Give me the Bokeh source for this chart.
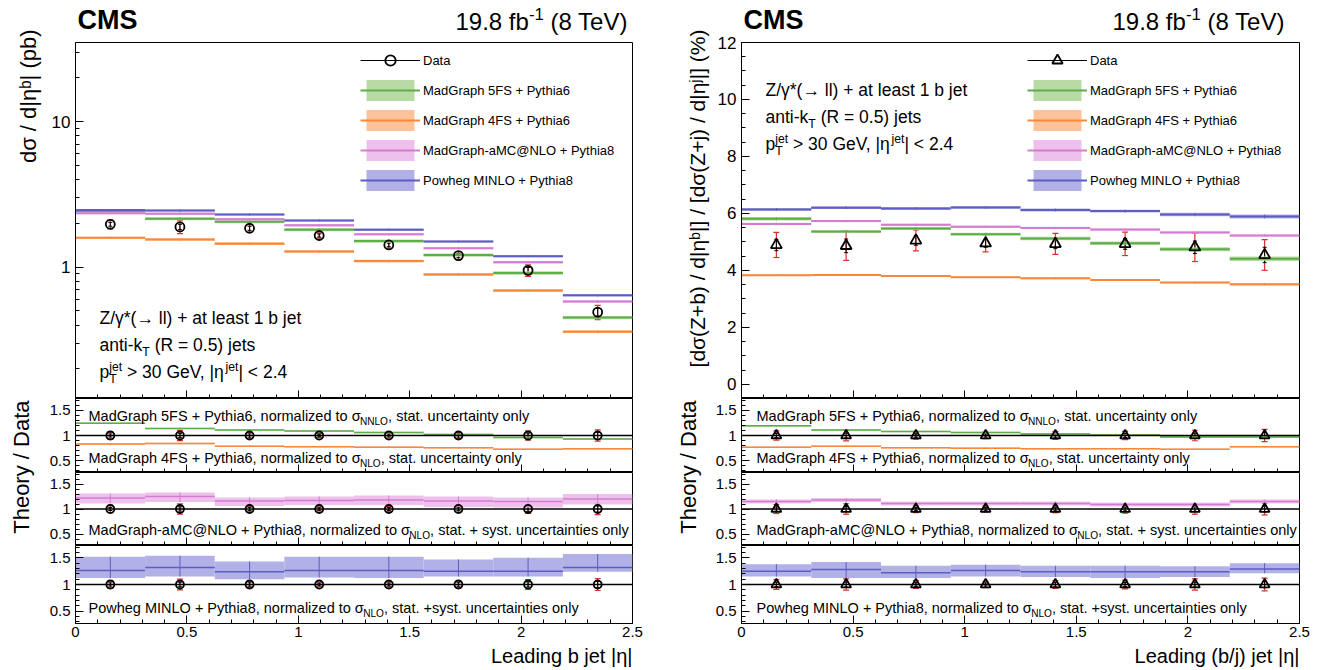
import math
from bokeh.plotting import figure
from bokeh.models import (Range1d, FixedTicker, SingleIntervalTicker, NumeralTickFormatter,
                          CustomJSTickFormatter, Label, Legend, LegendItem, Span, Whisker,
                          TeeHead, ColumnDataSource)
from bokeh.layouts import column, row
from bokeh.embed import file_html
from bokeh.resources import INLINE

FONT = "Liberation Sans"

# ---------------- data ----------------
bin_edges = [0.0, 0.3125, 0.625, 0.9375, 1.25, 1.5625, 1.875, 2.1875, 2.5]

# Left: leading b jet |eta|, dsigma/d|eta| (pb)
b_data = [1.97, 1.89, 1.85, 1.65, 1.42, 1.20, 0.95, 0.49]
b_data_tot = [0.14, 0.19, 0.11, 0.07, 0.07, 0.075, 0.085, 0.055]
b_data_stat = [0.06, 0.08, 0.06, 0.04, 0.04, 0.04, 0.045, 0.03]
b_mg5 = [2.41, 2.15, 2.05, 1.81, 1.51, 1.21, 0.91, 0.45]
b_mg4 = [1.59, 1.55, 1.45, 1.28, 1.10, 0.89, 0.69, 0.36]
b_amc = [2.35, 2.33, 2.13, 1.94, 1.68, 1.35, 1.08, 0.58]
b_pow = [2.47, 2.45, 2.30, 2.09, 1.81, 1.50, 1.19, 0.64]
b_mg5_unc = [0.06, 0.05, 0.05, 0.045, 0.04, 0.03, 0.025, 0.012]
b_mg4_unc = [0.03, 0.03, 0.03, 0.025, 0.022, 0.02, 0.015, 0.008]
b_amc_unc = [0.04, 0.04, 0.04, 0.035, 0.03, 0.025, 0.02, 0.012]
b_pow_unc = [0.04, 0.04, 0.04, 0.035, 0.03, 0.025, 0.02, 0.012]
b_r_mg5 = [1.24, 1.14, 1.11, 1.09, 1.06, 1.02, 0.96, 0.93]
b_r_mg4 = [0.83, 0.84, 0.79, 0.78, 0.77, 0.76, 0.73, 0.74]
b_r_amc = [1.22, 1.25, 1.16, 1.17, 1.18, 1.16, 1.15, 1.20]
b_r_amc_lo = [1.11, 1.14, 1.06, 1.08, 1.08, 1.04, 1.03, 1.09]
b_r_amc_hi = [1.31, 1.33, 1.23, 1.25, 1.27, 1.25, 1.23, 1.30]
b_r_pow = [1.26, 1.32, 1.24, 1.26, 1.26, 1.25, 1.25, 1.32]
b_r_pow_lo = [1.12, 1.15, 1.10, 1.13, 1.12, 1.15, 1.15, 1.24]
b_r_pow_hi = [1.52, 1.54, 1.43, 1.52, 1.52, 1.47, 1.50, 1.57]

# Right: leading (b/j) jet |eta|, ratio (%)
bj_data = [4.89, 4.86, 5.05, 4.95, 4.93, 4.93, 4.81, 4.54]
bj_data_tot = [0.44, 0.51, 0.37, 0.30, 0.37, 0.41, 0.50, 0.54]
bj_data_stat = [0.20, 0.24, 0.17, 0.14, 0.17, 0.19, 0.22, 0.27]
bj_mg5 = [5.81, 5.36, 5.47, 5.27, 5.12, 4.95, 4.74, 4.41]
bj_mg4 = [3.83, 3.84, 3.80, 3.76, 3.72, 3.66, 3.57, 3.51]
bj_amc = [5.63, 5.73, 5.60, 5.53, 5.49, 5.43, 5.33, 5.22]
bj_pow = [6.14, 6.20, 6.17, 6.21, 6.12, 6.08, 5.96, 5.89]
bj_mg5_unc = [0.06, 0.05, 0.05, 0.05, 0.06, 0.06, 0.07, 0.08]
bj_mg4_unc = [0.03, 0.03, 0.03, 0.03, 0.03, 0.03, 0.03, 0.04]
bj_amc_unc = [0.04, 0.04, 0.04, 0.04, 0.04, 0.04, 0.04, 0.04]
bj_pow_unc = [0.05, 0.05, 0.05, 0.05, 0.05, 0.05, 0.06, 0.07]
bj_r_mg5 = [1.19, 1.11, 1.08, 1.06, 1.03, 1.01, 0.97, 0.97]
bj_r_mg4 = [0.77, 0.79, 0.76, 0.75, 0.74, 0.74, 0.73, 0.78]
bj_r_amc = [1.15, 1.18, 1.11, 1.11, 1.11, 1.09, 1.09, 1.15]
bj_r_amc_lo = [1.11, 1.14, 1.07, 1.07, 1.07, 1.05, 1.05, 1.11]
bj_r_amc_hi = [1.19, 1.22, 1.15, 1.15, 1.15, 1.13, 1.13, 1.19]
bj_r_pow = [1.25, 1.28, 1.22, 1.26, 1.24, 1.24, 1.24, 1.29]
bj_r_pow_lo = [1.15, 1.12, 1.12, 1.15, 1.14, 1.12, 1.14, 1.21]
bj_r_pow_hi = [1.38, 1.42, 1.35, 1.37, 1.35, 1.35, 1.34, 1.40]

model_labels = ["MadGraph 5FS + Pythia6", "MadGraph 4FS + Pythia6",
                "MadGraph-aMC@NLO + Pythia8", "Powheg MINLO + Pythia8"]
line_colors = ["#5cae48", "#f7883c", "#d47cd2", "#5f5cc2"]
band_colors = ["#b0d79b", "#fdbb8c", "#ecb9ea", "#a9a8e4"]
RED = "#d9302a"

# ---------------- text helpers ----------------
CW = {' ': 278, '!': 278, '(': 333, ')': 333, '*': 389, '+': 584, ',': 278, '-': 333,
      '.': 278, '/': 278, '<': 584, '=': 584, '>': 584, '@': 1015, '[': 278, ']': 278,
      '|': 260, '%': 889, 'σ': 571, 'η': 556, 'γ': 500, '→': 1000}
for ch in "0123456789":
    CW[ch] = 556
CW.update(dict(zip("ABCDEFGHIJKLMNOPQRSTUVWXYZ",
                   [667, 667, 722, 722, 667, 611, 778, 722, 278, 500, 667, 556, 833, 722,
                    778, 667, 778, 722, 667, 611, 722, 667, 944, 667, 667, 611])))
CW.update(dict(zip("abcdefghijklmnopqrstuvwxyz",
                   [556, 556, 500, 556, 556, 278, 556, 556, 222, 222, 500, 222, 833, 556,
                    556, 556, 556, 333, 500, 278, 556, 500, 722, 500, 500, 500])))

BASE_FIX = 0.36  # empirical: rendered baseline sits this fraction of the size below y


def tw(s, size):
    return sum(CW.get(c, 556) for c in s) * size / 1000.0


def rich(p, x, y, parts, size, align="left", style="normal"):
    items = []
    cur = 0.0
    for part in parts:
        kind = part[0]
        if kind == "n":
            items.append((part[1], cur, 0.0, size))
            cur += tw(part[1], size)
        elif kind == "sub":
            s = size * 0.7
            items.append((part[1], cur, -0.28 * size, s))
            cur += tw(part[1], s)
        elif kind == "sup":
            s = size * 0.7
            items.append((part[1], cur, 0.42 * size, s))
            cur += tw(part[1], s)
        elif kind == "ss":
            s = size * 0.7
            items.append((part[1], cur, -0.28 * size, s))
            items.append((part[2], cur, 0.42 * size, s))
            cur += max(tw(part[1], s), tw(part[2], s))
    shift = -cur if align == "right" else 0.0
    for text, dx, dy, s in items:
        stripped = text.lstrip(" ")
        lead = tw(text[:len(text) - len(stripped)], s)
        p.add_layout(Label(x=x, y=y, x_offset=dx + shift + lead,
                           y_offset=dy + BASE_FIX * s,
                           text=stripped.rstrip(" "),
                           text_font=FONT, text_font_size=f"{s:.1f}px",
                           text_font_style=style, text_color="black",
                           text_baseline="alphabetic", text_align="left"))


class Frame:
    def __init__(self, px0, fw, py0, fh, ylo, yhi, log=False):
        self.px0, self.fw, self.py0, self.fh = px0, fw, py0, fh
        self.ylo, self.yhi, self.log = ylo, yhi, log

    def x(self, px):
        return 2.5 * (px - self.px0) / self.fw

    def y(self, py):
        t = (py - self.py0) / self.fh
        if self.log:
            l0, l1 = math.log10(self.ylo), math.log10(self.yhi)
            return 10 ** (l1 - t * (l1 - l0))
        return self.yhi - t * (self.yhi - self.ylo)


def strip(x0, x1, y0, y1, bl=0, br=0):
    """Blank figure whose frame data coordinates equal page pixels (y downward)."""
    s = figure(frame_width=x1 - x0, frame_height=y1 - y0, min_border=0,
               min_border_left=bl, min_border_right=br,
               x_range=Range1d(x0, x1), y_range=Range1d(y1, y0),
               x_axis_location=None, y_axis_location=None,
               output_backend="svg", toolbar_location=None, title=None)
    s.grid.visible = False
    s.outline_line_color = None
    s.background_fill_color = "white"
    s.border_fill_color = "white"
    return s


def style(p, xlabels):
    p.grid.visible = False
    p.outline_line_color = "black"
    p.outline_line_width = 1
    p.background_fill_color = "white"
    p.border_fill_color = "white"
    for ax in list(p.xaxis) + list(p.yaxis):
        ax.axis_line_color = "black"
        ax.major_tick_in = 8
        ax.major_tick_out = 0
        ax.minor_tick_in = 4
        ax.minor_tick_out = 0
        ax.major_tick_line_color = "black"
        ax.minor_tick_line_color = "black"
        ax.major_label_text_font = FONT
        ax.major_label_text_color = "black"
    p.xaxis.ticker = SingleIntervalTicker(interval=0.5, num_minor_ticks=5)
    if xlabels:
        p.xaxis.formatter = NumeralTickFormatter(format="0.[0]")
        p.xaxis.major_label_text_font_size = "15px"
        p.xaxis.major_label_standoff = 3
    else:
        p.xaxis.formatter = CustomJSTickFormatter(code="return ''")
        p.xaxis.major_label_text_font_size = "0px"
        p.xaxis.major_label_standoff = 0


def draw_model(p, centers, vals, lo, hi, lc, bc, lw=2):
    q = p.quad(left=bin_edges[:-1], right=bin_edges[1:], bottom=lo, top=hi,
               fill_color=bc, fill_alpha=0.9, line_color=None)
    s = p.segment(x0=bin_edges[:-1], x1=bin_edges[1:], y0=vals, y1=vals,
                  line_color=lc, line_width=lw)
    p.segment(x0=centers, x1=centers, y0=lo, y1=hi, line_color=lc, line_width=1)
    return q, s


def draw_data(p, centers, vals, tot, stat, marker, size):
    src = ColumnDataSource(dict(x=centers,
                                up=[v + e for v, e in zip(vals, tot)],
                                lo=[v - e for v, e in zip(vals, tot)],
                                sup=[v + e for v, e in zip(vals, stat)],
                                slo=[v - e for v, e in zip(vals, stat)]))
    p.add_layout(Whisker(base="x", upper="up", lower="lo", source=src,
                         line_color=RED, line_width=1.2,
                         upper_head=TeeHead(size=6, line_color=RED, line_width=1.2),
                         lower_head=TeeHead(size=6, line_color=RED, line_width=1.2)))
    p.add_layout(Whisker(base="x", upper="sup", lower="slo", source=src,
                         line_color="black", line_width=1,
                         upper_head=TeeHead(size=4, line_color="black", line_width=1),
                         lower_head=TeeHead(size=4, line_color="black", line_width=1)))
    return p.scatter(x=centers, y=vals, marker=marker, size=size, fill_alpha=0,
                     line_color="black", line_width=1.8)


COLW = 660
TOP = 42
TOP_STRIP = 35
MAIN_H = 356
R_H = [74, 73, 78]
R3_BOT = 22
BOT_H = 23


def build(cfg):
    col_x = cfg["col_x"]
    ws, bl, fw = cfg["ws"], cfg["bl"], cfg["fw"]
    br = COLW - ws - bl - fw
    px0 = col_x + ws + bl
    centers = [(a + b) / 2 for a, b in zip(bin_edges[:-1], bin_edges[1:])]

    # ---------- main panel ----------
    ylo, yhi = cfg["yr"]
    p = figure(frame_width=fw, frame_height=MAIN_H, min_border_left=bl, min_border_right=br,
               min_border_top=TOP - TOP_STRIP, min_border_bottom=0, x_range=Range1d(0, 2.5),
               y_range=Range1d(ylo, yhi), y_axis_type="log" if cfg["log"] else "linear",
               output_backend="svg", toolbar_location=None, title=None)
    style(p, False)
    p.yaxis.major_label_text_font_size = "17px"
    p.yaxis.major_label_standoff = 5
    if cfg["log"]:
        p.yaxis.ticker = FixedTicker(ticks=[1, 10],
                                     minor_ticks=[0.2, 0.3, 0.4, 0.5, 0.6, 0.7, 0.8, 0.9,
                                                  2, 3, 4, 5, 6, 7, 8, 9, 20, 30])
    else:
        p.yaxis.ticker = SingleIntervalTicker(interval=2, num_minor_ticks=4)
    p.yaxis.formatter = NumeralTickFormatter(format="0")
    fr = Frame(px0, fw, TOP, MAIN_H, ylo, yhi, cfg["log"])

    rends = []
    for vals, unc, lc, bc in zip(cfg["models"], cfg["models_unc"], line_colors, band_colors):
        lo = [v - u for v, u in zip(vals, unc)]
        hi = [v + u for v, u in zip(vals, unc)]
        rends.append(draw_model(p, centers, vals, lo, hi, lc, bc))
    lr = p.line(x=centers, y=cfg["data"], line_color="black", line_width=1, visible=False)
    sr = draw_data(p, centers, cfg["data"], cfg["data_tot"], cfg["data_stat"],
                   cfg["marker"], cfg["msize"])
    items = [LegendItem(label="Data", renderers=[lr, sr])]
    for lab, (q, s) in zip(model_labels, rends):
        items.append(LegendItem(label=lab, renderers=[q, s]))
    leg = Legend(items=items, location=(cfg["leg_x"] - px0, (TOP + MAIN_H) - 193),
                 glyph_width=60, glyph_height=26, spacing=4, padding=0, margin=0,
                 label_standoff=3, label_text_font=FONT, label_text_font_size="13px",
                 label_text_color="black", background_fill_alpha=0, border_line_alpha=0)
    p.add_layout(leg)

    ax_, ay = cfg["ann_x"], cfg["ann_y"]
    rich(p, fr.x(ax_), fr.y(ay[0]), [("n", "Z/γ*(→ ll) + at least 1 b jet")], 17.5)
    rich(p, fr.x(ax_), fr.y(ay[1]),
         [("n", "anti-k"), ("sub", "T"), ("n", " (R = 0.5) jets")], 17.5)
    rich(p, fr.x(ax_), fr.y(ay[2]),
         [("n", "p"), ("ss", "T", "jet"), ("n", " > 30 GeV, |η"), ("sup", "jet"),
          ("n", "| < 2.4")], 17.5)

    # ---------- ratio panels ----------
    rlo, rhi = 0.27, 1.73
    tops = [TOP + MAIN_H, TOP + MAIN_H + R_H[0], TOP + MAIN_H + R_H[0] + R_H[1]]
    rfigs, frs = [], []
    for i in range(3):
        last = i == 2
        r = figure(frame_width=fw, frame_height=R_H[i], min_border_left=bl,
                   min_border_right=br, min_border_top=0,
                   min_border_bottom=R3_BOT if last else 0,
                   x_range=p.x_range, y_range=Range1d(rlo, rhi),
                   output_backend="svg", toolbar_location=None, title=None)
        style(r, last)
        r.yaxis.ticker = FixedTicker(ticks=[0.5, 1, 1.5],
                                     minor_ticks=[0.3, 0.4, 0.6, 0.7, 0.8, 0.9, 1.1, 1.2,
                                                  1.3, 1.4, 1.6, 1.7])
        r.yaxis.formatter = NumeralTickFormatter(format="0.[0]")
        r.yaxis.major_label_text_font_size = "15px"
        r.yaxis.major_label_standoff = 5
        rfigs.append(r)
        frs.append(Frame(px0, fw, tops[i], R_H[i], rlo, rhi))

    r1, r2, r3 = rfigs
    thin = 0.015
    for k, vals in ((0, cfg["r_mg5"]), (1, cfg["r_mg4"])):
        draw_model(r1, centers, vals, [v - thin for v in vals], [v + thin for v in vals],
                   line_colors[k], band_colors[k], lw=1.5)
    draw_model(r2, centers, cfg["r_amc"], cfg["r_amc_lo"], cfg["r_amc_hi"],
               line_colors[2], band_colors[2], lw=1.5)
    draw_model(r3, centers, cfg["r_pow"], cfg["r_pow_lo"], cfg["r_pow_hi"],
               line_colors[3], band_colors[3], lw=1.5)
    rel_tot = [e / v for e, v in zip(cfg["data_tot"], cfg["data"])]
    rel_stat = [e / v for e, v in zip(cfg["data_stat"], cfg["data"])]
    ones = [d / d for d in cfg["data"]]
    for r in rfigs:
        r.add_layout(Span(location=1, dimension="width", line_color="black", line_width=1.5))
        draw_data(r, centers, ones, rel_tot, rel_stat, cfg["marker"], cfg["msize"] - 1)

    tx = cfg["rtext_x"]
    rs = 14.5
    rich(r1, frs[0].x(tx), frs[0].y(421),
         [("n", "MadGraph 5FS + Pythia6, normalized to σ"), ("sub", "NNLO"),
          ("n", ", stat. uncertainty only")], rs)
    rich(r1, frs[0].x(tx), frs[0].y(463),
         [("n", "MadGraph 4FS + Pythia6, normalized to σ"), ("sub", "NLO"),
          ("n", ", stat. uncertainty only")], rs)
    rich(r2, frs[1].x(tx), frs[1].y(535),
         [("n", "MadGraph-aMC@NLO + Pythia8, normalized to σ"), ("sub", "NLO"),
          ("n", ", stat. + syst. uncertainties only")], rs)
    rich(r3, frs[2].x(tx), frs[2].y(613),
         [("n", "Powheg MINLO + Pythia8, normalized to σ"), ("sub", "NLO"),
          ("n", ", stat. +syst. uncertainties only")], rs)

    # ---------- strips (page-pixel coordinates) ----------
    full_h = TOP + MAIN_H + sum(R_H) + R3_BOT
    left = strip(col_x, col_x + ws, 0, full_h)
    left.add_layout(Label(x=cfg["ytitle_x"], y=29, text=cfg["ytitle"],
                          angle=math.pi / 2, text_align="right", text_baseline="middle",
                          text_font=FONT, text_font_size=cfg["ytitle_size"],
                          text_color="black"))
    left.add_layout(Label(x=cfg["td_x"], y=400, text="Theory / Data",
                          angle=math.pi / 2, text_align="right", text_baseline="middle",
                          text_font=FONT, text_font_size="22px", text_color="black"))

    top = strip(px0, px0 + fw, 0, TOP_STRIP, bl=bl, br=br)
    rich(top, px0 + 2, 29.2, [("n", "CMS")], 27, style="bold")
    rich(top, cfg["lumi_r"], 29.5,
         [("n", "19.8 fb"), ("sup", "-1"), ("n", " (8 TeV)")], 24, align="right")

    bottom = strip(col_x, col_x + COLW, full_h, full_h + BOT_H)
    bottom.add_layout(Label(x=px0 + fw, y=663, y_offset=BASE_FIX * 20, text=cfg["xtitle"],
                            text_align="right", text_baseline="alphabetic",
                            text_font=FONT, text_font_size="20px", text_color="black"))

    return column(row(left, column(top, p, r1, r2, r3)), bottom)


left_cfg = dict(col_x=0, ws=42, bl=33, fw=557, yr=(0.125, 35), log=True,
                models=[b_mg5, b_mg4, b_amc, b_pow],
                models_unc=[b_mg5_unc, b_mg4_unc, b_amc_unc, b_pow_unc],
                data=b_data, data_tot=b_data_tot, data_stat=b_data_stat,
                marker="circle", msize=9, leg_x=360, lumi_r=630,
                ytitle="dσ / d|ηᵇ| (pb)", ytitle_x=28, ytitle_size="22px",
                ann_x=99, ann_y=[324, 351, 378],
                r_mg5=b_r_mg5, r_mg4=b_r_mg4, r_amc=b_r_amc, r_amc_lo=b_r_amc_lo,
                r_amc_hi=b_r_amc_hi, r_pow=b_r_pow, r_pow_lo=b_r_pow_lo,
                r_pow_hi=b_r_pow_hi, rtext_x=88, xtitle="Leading b jet |η|", td_x=21)
right_cfg = dict(col_x=660, ws=50, bl=31, fw=558, yr=(-0.5, 12), log=False,
                 models=[bj_mg5, bj_mg4, bj_amc, bj_pow],
                 models_unc=[bj_mg5_unc, bj_mg4_unc, bj_amc_unc, bj_pow_unc],
                 data=bj_data, data_tot=bj_data_tot, data_stat=bj_data_stat,
                 marker="triangle", msize=11, leg_x=1027, lumi_r=1287,
                 ytitle="[dσ(Z+b) / d|ηᵇ|] / [dσ(Z+j) / d|ηʲ|] (%)", ytitle_x=697,
                 ytitle_size="21px", ann_x=765, ann_y=[96, 123, 150],
                 r_mg5=bj_r_mg5, r_mg4=bj_r_mg4, r_amc=bj_r_amc, r_amc_lo=bj_r_amc_lo,
                 r_amc_hi=bj_r_amc_hi, r_pow=bj_r_pow, r_pow_lo=bj_r_pow_lo,
                 r_pow_hi=bj_r_pow_hi, rtext_x=756, xtitle="Leading (b/j) jet |η|",
                 td_x=688)

layout = row(build(left_cfg), build(right_cfg))

open("out.html", "w").write(file_html(layout, INLINE))
